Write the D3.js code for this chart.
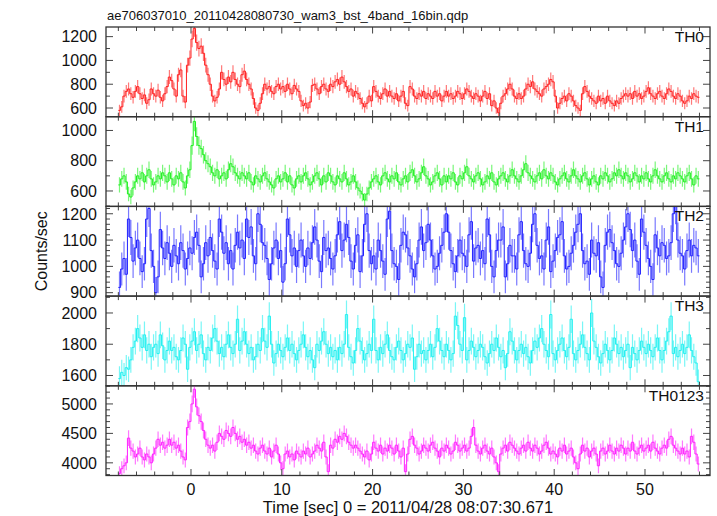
<!DOCTYPE html>
<html><head><meta charset="utf-8">
<script src="https://cdn.jsdelivr.net/npm/d3@7"></script>
<style>body{margin:0;background:#fff}svg{display:block}text{font-family:"Liberation Sans",Arial,Helvetica,sans-serif;fill:#111}</style>
</head><body><svg id="c" width="717" height="516"></svg>
<script>
// ---- data (counts/sec, 0.25 s bins starting at t = -8 s) ----
const binStart = -8;
const binWidth = 0.25;
const panelNames = ["TH0", "TH1", "TH2", "TH3", "TH0123"];
const panelColors = ["#ff2020", "#20f020", "#2020ff", "#20f0f0", "#ff20ff"];
const th0 = [
  580,610,700,740,760,720,690,740, 780,720,680,710,640,670,760,720,
  700,750,690,660,720,780,860,830, 760,700,880,920,700,650,960,1020,
  1180,1270,1150,1100,1120,1060,960,880, 800,700,660,690,760,900,840,800,
  860,820,900,840,800,780,880,910, 840,800,760,680,600,580,640,720,
  800,760,780,740,720,780,800,760, 780,740,800,760,720,790,760,740,
  660,620,640,600,650,790,800,760, 720,780,800,760,740,800,780,820,
  840,800,860,820,780,740,760,700, 740,720,680,640,610,640,700,660,
  780,740,700,680,720,760,700,740, 700,680,720,660,700,740,640,620,
  780,760,700,680,720,700,740,680, 720,700,680,740,700,720,660,700,
  740,700,720,680,700,740,720,680, 720,760,740,700,680,720,700,660,
  700,740,680,720,620,660,600,560, 640,700,720,760,800,760,700,680,
  720,680,700,760,800,780,820,760, 740,720,700,760,780,800,840,820,
  700,600,640,680,700,660,720,700, 660,620,600,580,720,780,740,700,
  680,660,640,700,660,680,640,700, 660,640,620,660,640,680,700,720,
  700,720,680,740,700,720,680,700, 740,770,720,700,680,720,740,700,
  680,720,760,740,700,680,720,700, 660,640,660,700,680,720,700,690];
const th1 = [
  640,680,700,660,580,560,620,660, 700,680,720,660,700,740,680,640,
  660,700,680,720,700,660,720,680, 640,700,680,720,660,620,700,740,
  900,1060,960,900,880,840,800,780, 760,720,700,740,680,700,720,680,
  740,780,760,720,700,680,720,700, 680,720,660,640,700,680,660,700,
  720,680,660,640,620,680,700,660, 680,720,660,700,640,620,680,700,
  660,700,720,680,640,660,700,720, 680,640,700,660,720,700,660,640,
  700,680,660,720,680,640,660,700, 660,620,600,580,540,580,620,660,
  680,700,660,640,700,720,680,660, 700,680,720,660,640,680,700,660,
  720,740,700,660,680,720,760,700, 680,640,660,700,720,680,640,700,
  660,700,680,720,660,640,700,680, 720,760,700,680,660,700,720,680,
  640,660,700,680,720,660,640,680, 700,720,680,660,700,740,700,680,
  660,700,740,780,720,700,680,660, 700,720,680,740,700,680,720,700,
  660,640,680,700,720,680,660,700, 740,700,680,660,700,720,680,640,
  680,700,660,640,700,680,720,700, 660,680,720,700,740,700,680,720,
  700,660,680,720,700,660,700,680, 720,680,660,700,740,700,680,660,
  700,720,680,660,700,680,720,700, 680,660,700,720,680,640,700,680];
const th2 = [
  920,990,1030,970,1180,1110,1020,1070, 1100,1030,980,1010,1180,1220,1060,1000,
  900,960,1140,1070,1030,1090,1050,1000, 1080,1040,1010,1090,1060,990,1030,1070,
  1050,1110,1130,1080,960,1010,1090,1040, 1110,1060,1020,990,1180,1130,1050,1090,
  1010,1060,990,1080,1130,1070,1100,1030, 1180,1110,1150,1040,1010,1200,1160,1090,
  1080,1030,950,1010,1070,1100,1030,1060, 940,1010,1180,1120,1040,1070,1000,1060,
  1100,1040,1000,1070,1030,1090,1150,1100, 1020,980,1110,1060,1070,1030,990,1040,
  1120,1170,1060,1100,1160,1110,1020,990, 1080,1120,980,1040,1160,1200,1060,1010,
  1040,990,1100,1060,1020,970,1180,1210, 1060,1010,1000,950,1080,1130,1120,1070,
  1040,990,960,1010,1100,1150,1060,1090, 1160,1100,1040,990,1000,1050,1080,1130,
  1200,1130,1060,1010,980,1040,1100,1050, 1040,1000,1120,1170,1020,1070,1080,1030,
  1060,1010,1180,1120,1000,960,1060,1100, 1100,1150,960,1010,1080,1040,1040,990,
  1120,1170,1060,1010,1000,1050,1160,1200, 1080,1030,1040,990,1100,1150,980,1020,
  1060,1110,1120,1170,1040,990,1000,1050, 1080,1130,1160,1200,1060,1010,1020,970,
  1100,1050,1040,1090,960,920,1080,1130, 1140,1090,1060,1010,1000,1050,1100,1150,
  1200,1140,1060,1100,1020,970,1180,1130, 1080,1030,1000,950,1120,1070,1040,1090,
  1080,1030,1040,1090,1200,1230,1100,1050, 1040,990,1060,1100,1040,1080,1070,1040];
const th3 = [
  1580,1620,1600,1650,1640,1700,1780,1820, 1900,1840,1780,1860,1760,1800,1720,1780,
  1800,1740,1860,1790,1700,1760,1820,1760, 1780,1720,1700,1760,1840,1800,1640,1780,
  1820,1880,1760,1800,1860,1740,1700,1780, 1760,1840,1900,1820,1740,1780,1720,1800,
  1860,1780,1740,1800,1960,1760,1820,1880, 1800,1740,1780,1700,1720,1800,1760,1900,
  1820,1780,1980,1800,1680,1740,1800,1760, 1720,1780,1840,1760,1800,1740,1700,1760,
  1800,1860,1780,1720,1760,1700,1650,1800, 1760,1820,1880,1800,1740,1780,1720,1760,
  1700,1780,1740,1800,1990,1780,1720,1680, 1760,1900,1820,1760,1700,1740,1800,1760,
  1960,1760,1700,1780,1740,1800,1860,1760, 1720,1700,1780,1820,1760,1700,1740,1800,
  1780,1840,1640,1720,1800,1740,1760,1700, 1760,1800,1720,1780,1900,1820,1760,1720,
  1800,1760,1700,1740,1980,1920,1800,1760, 1970,1700,1760,1820,1780,1720,1760,1800,
  1780,1720,1680,1740,1800,1760,1840,1780, 1720,1760,1650,1740,1880,1820,1760,1700,
  1760,1800,1740,1780,1720,1680,1760,1820, 1780,1840,1900,1800,1760,1720,1990,1740,
  1700,1760,1800,1840,1760,1720,1780,1960, 1740,1700,1760,1800,1860,1780,1740,1700,
  2000,1820,1780,1720,1680,1740,1800,1760, 1700,1760,1840,1800,1740,1780,1720,1760,
  1800,1650,1780,1740,1700,1760,1820,1780, 1740,1800,1760,1720,1780,1840,1760,1700,
  1760,1820,1880,1980,1740,1780,1720,1760, 1800,1740,1780,1860,1760,1720,1680,1560];
const th0123 = [
  3820,3900,3950,4000,4420,4250,4200,4100, 4150,4250,4100,4050,4150,4100,4000,4150,
  4250,4400,4300,4350,4250,4300,4400,4300, 4350,4250,4300,4200,4100,4050,4600,4700,
  5000,5250,4950,4800,4700,4550,4400,4300, 4250,4300,4200,4350,4500,4450,4400,4550,
  4500,4450,4600,4500,4400,4450,4350,4400, 4300,4350,4250,4300,4200,4150,4250,4300,
  4200,4150,4250,4100,4200,4300,4150,4000, 3900,4150,4200,4100,4150,4050,4200,4150,
  4100,4200,4150,4250,4100,4150,4200,4300, 4250,4200,4350,4100,3850,4300,4250,4400,
  4350,4450,4400,4500,4450,4350,4300,4250, 4300,4250,4200,4150,4100,4200,4050,4150,
  4350,4250,4200,4300,4150,4250,4200,4300, 4250,4150,4300,4200,4100,4250,3850,4150,
  4400,4450,4300,4250,4150,4200,4300,4250, 4200,4300,4350,4250,4200,4100,4250,4200,
  4300,4250,4150,4200,4350,4300,4200,4250, 4300,4200,4250,4450,4600,4300,4200,4150,
  4250,4300,4200,4150,4250,4100,4000,3850, 4150,4250,4300,4200,4350,4300,4250,4200,
  4150,4250,4300,4200,4350,4250,4200,4300, 4250,4150,4200,4300,4350,4250,4150,4200,
  4150,4100,4250,4200,4300,4150,4200,4250, 4100,4000,3900,4150,4300,4200,4250,4100,
  4200,4250,4150,3950,4200,4250,4150,4200, 4300,4200,4150,4250,4200,4300,4250,4150,
  4250,4200,4350,4200,4150,4250,4300,4200, 4250,4300,4200,4350,4250,4200,4150,4250,
  4300,4250,4400,4450,4300,4250,4200,4150, 4250,4150,4200,4100,4450,4350,4150,3980];
const seriesList = [th0, th1, th2, th3, th0123];
const yDomains = [[527, 1281], [498, 1091], [887, 1228], [1534, 2108], [3785, 5308]];
const yTickLabels = [[600, 800, 1000, 1200], [600, 800, 1000], [900, 1000, 1100, 1200], [1600, 1800, 2000], [4000, 4500, 5000]];
const yMinorStep = [100, 100, 20, 100, 100];
const xTickLabels = [0, 10, 20, 30, 40, 50];
const xMinorStep = 2;
const titleText = "ae706037010_20110428080730_wam3_bst_4band_16bin.qdp";
const xTitle = "Time [sec] 0 = 2011/04/28 08:07:30.671";
const yTitle = "Counts/sec";

// ---- layout ----
const L = 106, R = 710, T = 27, PH = 89.7;
const svg = d3.select("#c");
const x = d3.scaleLinear().domain([-9.36, 57.16]).range([L, R]);
const frameCol = "#333", tickCol = "#444";

svg.append("text").attr("x", 107).attr("y", 20).attr("font-size", 13).text(titleText);

seriesList.forEach((vals, p) => {
  const top = T + p * PH, bot = top + PH;
  const y = d3.scaleLinear().domain(yDomains[p]).range([bot, top]);
  const g = svg.append("g");
  const cid = "clip" + p;
  svg.append("clipPath").attr("id", cid).append("rect").attr("x", L).attr("y", top).attr("width", R - L).attr("height", PH);
  // Poisson error of a rate measured in one bin
  const data = vals.map((v, i) => ({ t: binStart + binWidth * (i + 0.5), v, e: Math.sqrt(v * binWidth) / binWidth }));
  const dg = g.append("g").attr("clip-path", `url(#${cid})`);
  dg.selectAll("line.err").data(data).join("line")
    .attr("x1", d => x(d.t)).attr("x2", d => x(d.t))
    .attr("y1", d => y(d.v - d.e)).attr("y2", d => y(d.v + d.e))
    .attr("stroke", panelColors[p]).attr("stroke-opacity", 0.6).attr("stroke-width", 1.2);
  const pts = data.map(d => [d.t - binWidth / 2, d.v]);
  pts.push([data[data.length - 1].t + binWidth / 2, data[data.length - 1].v]);
  dg.append("path").attr("d", d3.line().x(d => x(d[0])).y(d => y(d[1])).curve(d3.curveStepAfter)(pts))
    .attr("fill", "none").attr("stroke", panelColors[p]).attr("stroke-width", 1);

  const [y0, y1] = yDomains[p];
  const minors = d3.range(Math.ceil(y0 / yMinorStep[p]) * yMinorStep[p], y1, yMinorStep[p]);
  const tg = g.append("g").attr("stroke", tickCol).attr("stroke-width", 1);
  minors.forEach(v => {
    const major = yTickLabels[p].includes(v);
    const len = major ? 7 : 4;
    tg.append("line").attr("x1", L).attr("x2", L + len).attr("y1", y(v)).attr("y2", y(v));
    tg.append("line").attr("x1", R).attr("x2", R - len).attr("y1", y(v)).attr("y2", y(v));
  });
  d3.range(-8, 57, xMinorStep).forEach(t => {
    const major = xTickLabels.includes(t);
    const len = major ? 6.5 : 4;
    tg.append("line").attr("x1", x(t)).attr("x2", x(t)).attr("y1", top).attr("y2", top + len);
    tg.append("line").attr("x1", x(t)).attr("x2", x(t)).attr("y1", bot).attr("y2", bot - len);
  });
  g.selectAll("text.yl").data(yTickLabels[p]).join("text")
    .attr("x", 97).attr("y", d => y(d)).attr("dy", "0.36em").attr("text-anchor", "end")
    .attr("font-size", 16).text(d => d);
  g.append("rect").attr("x", L).attr("y", top).attr("width", R - L).attr("height", PH)
    .attr("fill", "none").attr("stroke", frameCol).attr("stroke-width", 1.3);
  g.append("text").attr("x", 704).attr("y", top + 15).attr("text-anchor", "end")
    .attr("font-size", 15.5).text(panelNames[p]);
});

const botY = T + 5 * PH;
svg.selectAll("text.xl").data(xTickLabels).join("text")
  .attr("x", d => x(d)).attr("y", botY + 19).attr("text-anchor", "middle")
  .attr("font-size", 16).text(d => d);
svg.append("text").attr("x", 408).attr("y", botY + 37).attr("text-anchor", "middle")
  .attr("font-size", 16.5).text(xTitle);
svg.append("text").attr("transform", `translate(47,${T + 2.5 * PH}) rotate(-90)`)
  .attr("text-anchor", "middle").attr("font-size", 16).text(yTitle);
</script></body></html>
